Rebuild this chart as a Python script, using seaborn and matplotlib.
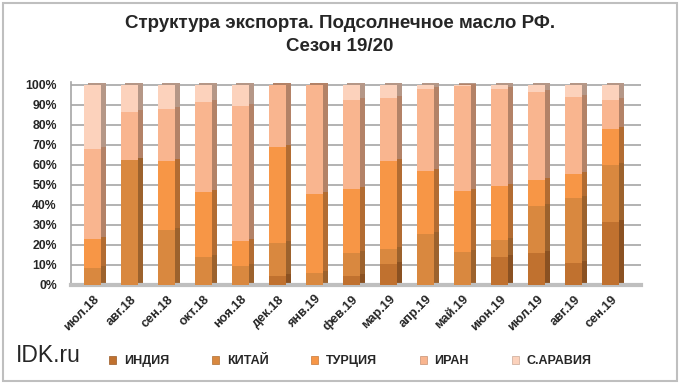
import numpy as np
import pandas as pd
import matplotlib
matplotlib.use("Agg")
import matplotlib.pyplot as plt
from matplotlib.patches import Rectangle, Patch
from matplotlib.ticker import FixedLocator, FuncFormatter
import seaborn as sns

months = ['июл.18', 'авг.18', 'сен.18', 'окт.18', 'ноя.18', 'дек.18', 'янв.19',
          'фев.19', 'мар.19', 'апр.19', 'май.19', 'июн.19', 'июл.19', 'авг.19', 'сен.19']
india = [0, 0, 0, 0, 0, 4.6, 0, 4.3, 10.4, 0, 0, 14.0, 15.8, 10.9, 31.4]
china = [8.7, 62.2, 27.3, 14.1, 9.5, 16.4, 5.9, 11.5, 7.7, 25.5, 16.6, 8.2, 23.8, 32.4, 28.6]
turkey = [14.0, 0, 34.5, 32.1, 12.4, 47.7, 39.3, 31.9, 43.6, 31.6, 30.3, 27.3, 13.0, 12.3, 18.1]
iran = [45.2, 24.1, 26.3, 45.1, 67.4, 31.3, 54.8, 44.6, 31.7, 40.8, 52.6, 48.4, 43.8, 38.2, 14.2]
saudi = [32.1, 13.7, 11.9, 8.7, 10.7, 0, 0, 7.7, 6.6, 2.1, 0.5, 2.1, 3.6, 6.2, 7.7]
series_names = ['ИНДИЯ', 'КИТАЙ', 'ТУРЦИЯ', 'ИРАН', 'С.АРАВИЯ']
colors = ['#C0712F', '#D9883F', '#F79646', '#F9B58F', '#FCD2BC']

sns.set_style("white")
plt.rcParams['font.family'] = ['Liberation Sans', 'DejaVu Sans']

fig = plt.figure(figsize=(6.8, 3.84), dpi=100)
ax = fig.add_axes([0.104, 0.258, 0.838, 0.529])

data = [india, china, turkey, iran, saudi]
cum = np.cumsum(np.array(data), axis=0)
xpos = np.arange(len(months))

def darker(c, f=0.72):
    r, g, b = matplotlib.colors.to_rgb(c)
    return (r * f, g * f, b * f)

W = 0.46
# side faces (3D look) first
for k in range(len(data) - 1, -1, -1):
    df = pd.DataFrame({'x': xpos + 0.11, 'y': cum[k] + 1.0})
    sns.barplot(data=df, x='x', y='y', native_scale=True, color=darker(colors[k]),
                saturation=1, width=W, ax=ax, linewidth=0, zorder=2)
for k in range(len(data) - 1, -1, -1):
    df = pd.DataFrame({'x': xpos, 'y': cum[k]})
    sns.barplot(data=df, x='x', y='y', native_scale=True, color=colors[k],
                saturation=1, width=W, ax=ax, linewidth=0, zorder=3)

ax.set_xlim(-0.6, 14.8)
ax.set_ylim(0, 101.5)
ax.set_yticks(np.arange(0, 101, 10))
ax.yaxis.set_major_formatter(FuncFormatter(lambda v, p: f"{int(round(v))}%"))
ax.grid(axis='y', color='#A6A6A6', linewidth=1.2, zorder=0)
ax.set_axisbelow(True)
ax.set_xticks(xpos)
ax.set_xticklabels(months, rotation=45, ha='right', rotation_mode='anchor',
                   fontsize=9.2, fontweight='bold')
ax.tick_params(axis='x', length=0, pad=6)
ax.xaxis.set_minor_locator(FixedLocator(np.arange(-0.5, 15, 1)))
ax.tick_params(axis='x', which='minor', length=4, color='#A6A6A6', width=1)
ax.tick_params(axis='y', length=4, color='#A6A6A6', width=1, labelsize=8.8, pad=6)
for lab in ax.get_yticklabels():
    lab.set_fontweight('bold')
ax.set_xlabel('')
ax.set_ylabel('')
for s in ['top', 'right']:
    ax.spines[s].set_visible(False)
ax.spines['left'].set_color('#A6A6A6')
ax.spines['bottom'].set_color('#BFBFBF')
ax.spines['left'].set_linewidth(1.2)
ax.spines['bottom'].set_linewidth(3)

fig.text(0.5, 0.94, 'Структура экспорта. Подсолнечное масло РФ.', ha='center', va='center',
         fontsize=13.5, fontweight='bold')
fig.text(0.5, 0.88, 'Сезон 19/20', ha='center', va='center', fontsize=13.5, fontweight='bold')
fig.text(0.024, 0.073, 'IDK.ru', ha='left', va='center', fontsize=16.5)

handles = [Patch(facecolor=c, edgecolor=darker(c, 0.8), linewidth=0.5) for c in colors]
fig.legend(handles, series_names, loc='center', bbox_to_anchor=(0.515, 0.06), ncol=5,
           frameon=False, handlelength=0.6, handleheight=0.6, handletextpad=0.6,
           columnspacing=3.4, prop={'size': 9, 'weight': 'bold'})

fig.patches.append(Rectangle((0.004, 0.008), 0.992, 0.984, transform=fig.transFigure,
                             fill=False, edgecolor='#BFBFBF', linewidth=1.5))
fig.savefig('out.png', dpi=100, facecolor='white')
